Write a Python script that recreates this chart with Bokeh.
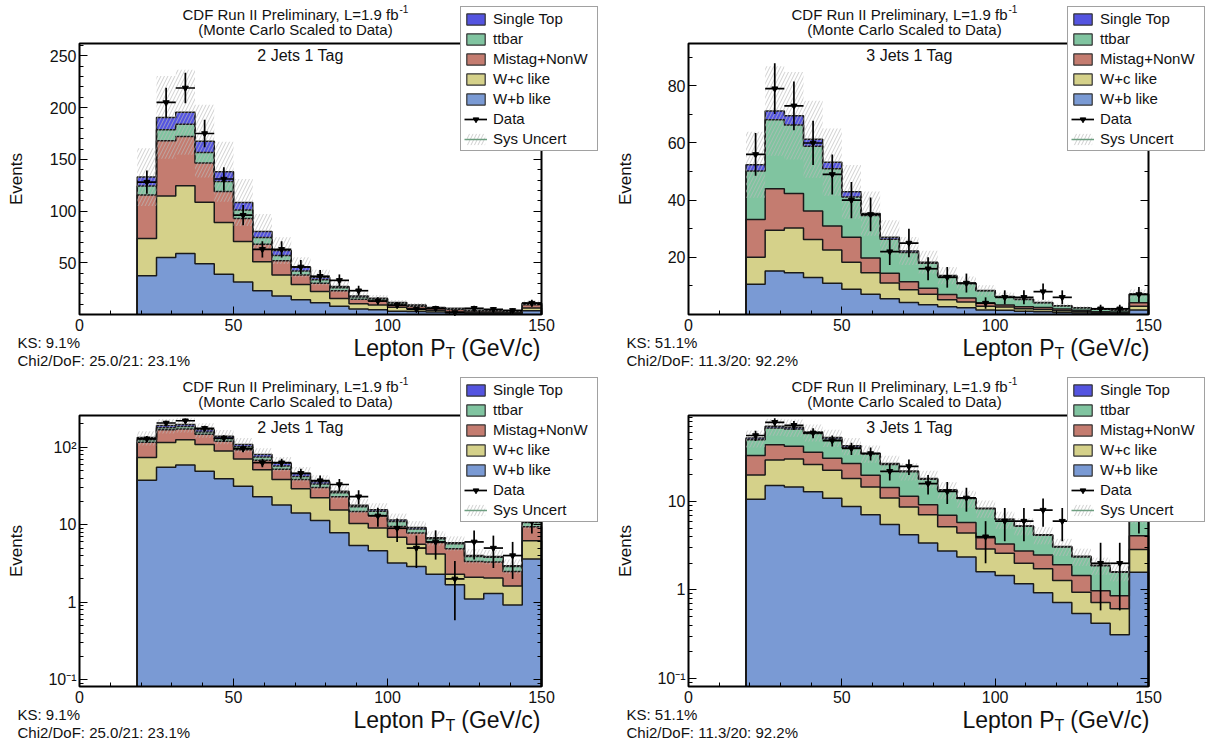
import numpy as np
from bokeh.plotting import figure
from bokeh.models import (Range1d, LinearAxis, FixedTicker, Label, Legend, LegendItem,
                          BoxAnnotation)
from bokeh.layouts import row, column
from bokeh.embed import file_html
from bokeh.resources import INLINE

FONT = "Liberation Sans"

# ---------------- data ----------------
bin_edges = [18.75, 25.0, 31.25, 37.5, 43.75, 50.0, 56.25, 62.5, 68.75, 75.0, 81.25,
             87.5, 93.75, 100.0, 106.25, 112.5, 118.75, 125.0, 131.25, 137.5, 143.75, 150.0]
x_lim = (0.0, 150.0)
x_major = [0, 50, 100, 150]
x_minor = [10, 20, 30, 40, 60, 70, 80, 90, 110, 120, 130, 140]

samples = ["W+b like", "W+c like", "Mistag+NonW", "ttbar", "Single Top"]
colors = ["#7A9AD4", "#D5D18A", "#C47C70", "#80C4A0", "#5454E0"]

# 2 jets 1 tag (stack components, bottom to top)
wb_2j = [37.5, 55.0, 59.0, 49.0, 39.0, 31.3, 23.0, 18.0, 14.2, 11.3, 7.9, 5.4, 4.6, 3.2, 2.9, 2.3, 1.68, 1.1, 1.3, 0.92, 3.6]
wc_2j = [36.0, 59.5, 65.5, 59.5, 50.0, 39.2, 28.0, 20.3, 14.8, 10.9, 7.6, 5.0, 4.5, 3.7, 2.7, 1.9, 0.62, 1.0, 0.75, 0.70, 2.6]
mis_2j = [42.0, 53.5, 47.5, 37.9, 30.0, 22.2, 17.0, 13.7, 9.3, 8.0, 7.5, 4.4, 4.0, 2.6, 2.2, 1.7, 2.6, 1.25, 1.25, 0.88, 3.2]
tt_2j = [8.7, 10.5, 12.0, 10.1, 9.5, 8.3, 6.5, 5.0, 3.7, 3.4, 2.8, 2.2, 1.8, 1.5, 1.0, 0.7, 0.8, 0.55, 0.5, 0.4, 1.3]
st_2j = [8.7, 12.0, 11.6, 11.1, 9.5, 7.2, 5.7, 4.8, 3.7, 2.2, 1.2, 0.8, 0.7, 0.5, 0.4, 0.2, 0.15, 0.1, 0.1, 0.05, 0.5]
data_2j = [128, 205, 219, 175, 131, 96, 63, 63, 46, 37, 33, 23, 13, 9, 5, 6, 2, 6, 5, 4, 11]
sys_rel_2j = 0.21
ks_2j = "KS: 9.1%"
chi2_2j = "Chi2/DoF: 25.0/21: 23.1%"

# 3 jets 1 tag
wb_3j = [10.6, 15.2, 14.6, 12.9, 10.9, 8.8, 7.1, 5.5, 4.2, 3.4, 2.75, 2.35, 1.6, 1.45, 1.17, 0.93, 0.72, 0.54, 0.42, 0.31, 1.58]
wc_3j = [9.4, 14.3, 15.7, 13.3, 11.7, 9.5, 7.5, 5.5, 4.5, 3.7, 2.45, 2.05, 1.3, 1.15, 0.83, 0.8, 0.56, 0.4, 0.3, 0.3, 1.28]
mis_3j = [13.2, 14.5, 12.0, 10.0, 8.4, 8.7, 5.2, 3.4, 2.8, 2.1, 1.8, 1.4, 1.0, 0.7, 0.75, 0.76, 0.64, 0.51, 0.26, 0.25, 1.24]
tt_3j = [17.0, 24.1, 24.0, 22.7, 20.0, 14.1, 14.8, 11.9, 10.2, 8.7, 6.4, 5.0, 4.4, 2.95, 2.5, 1.66, 1.13, 0.9, 0.9, 0.72, 3.0]
st_3j = [2.2, 3.1, 3.2, 2.4, 2.3, 1.8, 0.7, 0.7, 0.5, 0.4, 0.2, 0.1, 0.1, 0.05, 0.05, 0.05, 0.05, 0.05, 0.02, 0.02, 0.1]
data_3j = [56, 79, 73, 60, 49, 40, 35, 22, 25, 16, 13, 11, 4, 6, 6, 8, 6, 0, 2, 2, 7]
sys_rel_3j = 0.22
ks_3j = "KS: 51.1%"
chi2_3j = "Chi2/DoF: 11.3/20: 92.2%"

title_line1 = "CDF Run II Preliminary, L=1.9 fb"
title_sup = "-1"
title_line2 = "(Monte Carlo Scaled to Data)"

lin_ticks_2j = [50, 100, 150, 200, 250]
lin_minor_2j = [v for v in range(10, 300, 10) if v % 50]
lin_ticks_3j = [20, 40, 60, 80]
lin_minor_3j = [10, 30, 50, 70, 90]
log_ticks = [0.1, 1, 10, 100]
log_minor = [k * 10.0 ** d for d in range(-2, 3) for k in range(2, 10)]
log_labels = {0.1: "10\u207b\u00b9", 1: "1", 10: "10", 100: "10\u00b2"}

FRAME_H = 271
HATCH = dict(hatch_pattern="/", hatch_color="#bababa", hatch_weight=0.7, hatch_scale=7)


def style_axis(ax, ticks, minor, labels=True):
    ax.ticker = FixedTicker(ticks=ticks, minor_ticks=minor)
    ax.major_tick_in = 8
    ax.major_tick_out = 0
    ax.minor_tick_in = 4
    ax.minor_tick_out = 0
    ax.major_tick_line_color = "black"
    ax.minor_tick_line_color = "black"
    ax.major_tick_line_width = 1
    ax.axis_line_color = None
    ax.major_label_text_font = FONT
    ax.major_label_text_font_size = "16px"
    if labels:
        ax.major_label_text_color = "#111111"
    else:
        ax.major_label_text_color = None
        ax.major_label_text_alpha = 0
        ax.major_label_standoff = 0


def panel(comps, data, sys_rel, jets, ks, chi2, log, ylim, yticks, yminor,
          W, H, fx0, fy0, fw, leg_dx, leg_dy):
    fh = FRAME_H
    ymin, ymax = ylim
    # frame covers whole canvas; the histogram box sits at (fx0, fy0) with size fw x fh
    sx = (x_lim[1] - x_lim[0]) / fw
    xr = Range1d(x_lim[0] - fx0 * sx, x_lim[1] + (W - fx0 - fw) * sx)
    if log:
        lo_l, hi_l = np.log10(ymin), np.log10(ymax)
        k = (hi_l - lo_l) / fh
        yr = Range1d(10 ** (lo_l - fy0 * k), 10 ** (hi_l + (H - fy0 - fh) * k))
    else:
        k = (ymax - ymin) / fh
        yr = Range1d(ymin - fy0 * k, ymax + (H - fy0 - fh) * k)

    p = figure(width=W, height=H, x_range=xr, y_range=yr,
               y_axis_type="log" if log else "linear",
               output_backend="svg", toolbar_location=None,
               min_border_left=0, min_border_right=0, min_border_top=0, min_border_bottom=0,
               background_fill_color="white", border_fill_color="white")
    p.title.visible = False
    p.grid.visible = False
    p.outline_line_color = None

    yt = [t for t in yticks if ymin <= t <= ymax]
    ym = [t for t in yminor if ymin <= t <= ymax]

    xa = p.xaxis[0]
    style_axis(xa, x_major, x_minor)
    xa.fixed_location = ymin
    xa.major_label_standoff = 4
    ya = p.yaxis[0]
    style_axis(ya, yt, ym)
    ya.fixed_location = x_lim[0]
    ya.major_label_standoff = 3
    if log:
        ya.major_label_overrides = log_labels
    ra = LinearAxis()
    style_axis(ra, yt, ym, labels=False)
    ra.fixed_location = x_lim[1]
    p.add_layout(ra, "right")

    e = np.array(bin_edges)
    base = ymin
    cum = np.zeros(len(comps[0]))
    tops = []
    for vals, col in zip(comps, colors):
        lo = cum.copy() if tops else np.full(len(cum), base)
        cum = cum + np.array(vals)
        hi = cum.copy()
        p.varea_step(x=e, y1=np.append(lo, lo[-1]), y2=np.append(hi, hi[-1]),
                     step_mode="after", fill_color=col, fill_alpha=1.0)
        tops.append(hi)
    for hi in tops:
        xs = np.repeat(e, 2)
        ys = np.concatenate([[base], np.repeat(hi, 2), [base]])
        p.line(xs, ys, line_color="#1a1a1a", line_width=1.5)

    total = tops[-1]
    p.quad(left=e[:-1], right=e[1:], bottom=total * (1 - sys_rel), top=total * (1 + sys_rel),
           fill_alpha=0, line_alpha=0, hatch_alpha=1.0, **HATCH)

    d = np.array(data, dtype=float)
    xc = (e[:-1] + e[1:]) / 2
    m = d > 0
    err = np.sqrt(d[m])
    p.segment(x0=xc[m], y0=d[m] - err, x1=xc[m], y1=d[m] + err, line_color="black", line_width=1.7)
    hseg = p.segment(x0=e[:-1][m], y0=d[m], x1=e[1:][m], y1=d[m], line_color="black", line_width=1.7)
    sc = p.scatter(xc[m], d[m], marker="inverted_triangle", size=6, color="black")

    # histogram box (frame of the plotting area)
    p.add_layout(BoxAnnotation(left=x_lim[0], right=x_lim[1], bottom=ymin, top=ymax,
                               fill_alpha=0, fill_color=None, line_color="black",
                               line_width=2, line_alpha=1.0))

    # legend proxies (placed far outside the canvas)
    off = [-1.0e4]
    items = []
    for name, col in reversed(list(zip(samples, colors))):
        r = p.quad(left=off, right=[-9.9e3], bottom=[1], top=[2], fill_color=col,
                   line_color="#333333", line_width=1.2)
        items.append(LegendItem(label=name, renderers=[r]))
    items.append(LegendItem(label="Data", renderers=[hseg, sc]))
    hq = p.quad(left=off, right=[-9.9e3], bottom=[1], top=[2], fill_alpha=0, line_alpha=0,
                **HATCH)
    gl = p.line(x=[-1.0e4, -9.9e3], y=[1, 1], line_color="#6E9E80", line_width=1.5)
    items.append(LegendItem(label="Sys Uncert", renderers=[hq, gl]))
    leg = Legend(items=items, location=(fx0 + leg_dx, fy0 + leg_dy), label_text_font=FONT,
                 label_text_font_size="15px", label_text_color="#111111",
                 glyph_width=23, glyph_height=14, label_standoff=6, spacing=3,
                 padding=3, margin=0, label_height=14, label_width=101,
                 border_line_color="#444444", border_line_width=1.5,
                 background_fill_color="white", background_fill_alpha=1.0)
    p.add_layout(leg)

    def lab(text, x, y, size, align="left", angle=0.0):
        p.add_layout(Label(x=fx0 + x, y=fy0 + y, x_units="screen", y_units="screen", text=text,
                           text_font=FONT, text_font_size=f"{size}px", text_align=align,
                           text_baseline="alphabetic", angle=angle, text_color="#111111"))

    lab(title_line1, 103, 300, 15)
    lab(title_sup, 320, 306, 10)
    lab(title_line2, 216, 285, 15, align="center")
    lab(jets, 221, 259, 16, align="center")
    lab("Events", -63, fh / 2, 17, align="center", angle=np.pi / 2)
    lab(ks, -62, -28, 15)
    lab(chi2, -62, -46, 15)
    lab("(GeV/c)", 461, -33, 23, align="right")
    lab("T", 366, -39, 16)
    lab("Lepton P", 366, -33, 23, align="right")
    return p


comps_2j = [wb_2j, wc_2j, mis_2j, tt_2j, st_2j]
comps_3j = [wb_3j, wc_3j, mis_3j, tt_3j, st_3j]

p1 = panel(comps_2j, data_2j, sys_rel_2j, "2 Jets 1 Tag", ks_2j, chi2_2j, False, (0.0, 262.0),
           lin_ticks_2j, lin_minor_2j, 608, 375, 79, 61, 462, 381, 163)
p2 = panel(comps_3j, data_3j, sys_rel_3j, "3 Jets 1 Tag", ks_3j, chi2_3j, False, (0.0, 94.8),
           lin_ticks_3j, lin_minor_3j, 600, 375, 80, 61, 460, 379, 163)
p3 = panel(comps_2j, data_2j, sys_rel_2j, "2 Jets 1 Tag", ks_2j, chi2_2j, True, (0.082, 256.0),
           log_ticks, log_minor, 608, 374, 79, 63, 462, 381, 164)
p4 = panel(comps_3j, data_3j, sys_rel_3j, "3 Jets 1 Tag", ks_3j, chi2_3j, True, (0.0805, 94.3),
           log_ticks, log_minor, 600, 374, 80, 63, 460, 379, 164)

layout = column(row(p1, p2), row(p3, p4))
open("out.html", "w").write(file_html(layout, INLINE))
